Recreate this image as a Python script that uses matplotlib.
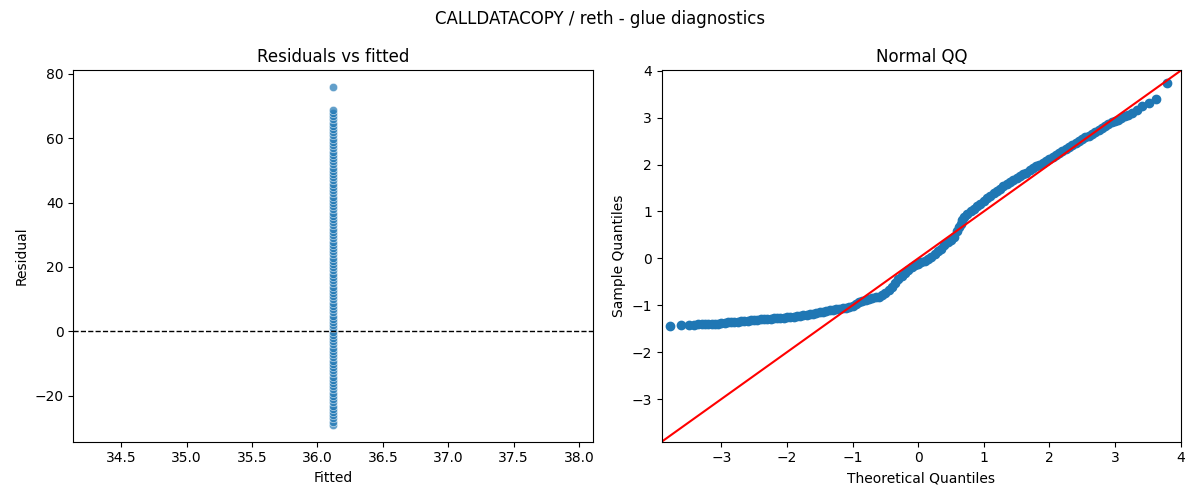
import numpy as np
import matplotlib
matplotlib.use("Agg")
import matplotlib.pyplot as plt
import seaborn as sns

# observed gas values (all at one fitted value)
fitted_value = 36.12
observed = [7, 8, 9, 10, 11, 12, 13, 14, 15, 16, 17, 18, 19, 20,
            21, 22, 23, 24, 25, 26, 27, 28, 29, 30, 31, 32, 33, 34,
            35, 36, 37, 38, 39, 40, 41, 42, 43, 44, 45, 46, 47, 48,
            49, 50, 51, 52, 53, 54, 55, 56, 57, 58, 59, 60, 61, 62,
            63, 64, 65, 66, 67, 68, 69, 70, 71, 72, 73, 74, 75, 76,
            77, 78, 79, 80, 81, 82, 83, 84, 85, 86, 87, 88, 89, 90,
            91, 92, 93, 94, 95, 96, 97, 98, 99, 100, 101, 102, 103, 104,
            105, 112]

# normal QQ
theo_q = [-3.78, -3.62, -3.50, -3.42, -3.36, -3.30, -3.25, -3.20, -3.15, -3.10,
          -3.05, -3.00, -2.95, -2.90, -2.85, -2.80, -2.75, -2.70, -2.65, -2.60,
          -2.55, -2.50, -2.45, -2.40, -2.35, -2.30, -2.25, -2.20, -2.15, -2.10,
          -2.05, -2.00, -1.95, -1.90, -1.85, -1.80, -1.75, -1.70, -1.65, -1.60,
          -1.55, -1.50, -1.45, -1.40, -1.35, -1.30, -1.25, -1.20, -1.15, -1.10,
          -1.05, -1.00, -0.95, -0.90, -0.85, -0.80, -0.75, -0.70, -0.65, -0.60,
          -0.55, -0.50, -0.45, -0.40, -0.35, -0.30, -0.25, -0.20, -0.15, -0.10,
          -0.05, 0.00, 0.05, 0.10, 0.15, 0.20, 0.25, 0.30, 0.35, 0.40,
          0.45, 0.50, 0.55, 0.60, 0.625, 0.65, 0.675, 0.70, 0.75, 0.80,
          0.85, 0.90, 0.95, 1.00, 1.05, 1.10, 1.15, 1.20, 1.25, 1.30,
          1.35, 1.40, 1.45, 1.50, 1.55, 1.60, 1.65, 1.70, 1.75, 1.80,
          1.85, 1.90, 1.95, 2.00, 2.05, 2.10, 2.15, 2.20, 2.25, 2.30,
          2.35, 2.40, 2.45, 2.50, 2.55, 2.60, 2.65, 2.70, 2.75, 2.80,
          2.85, 2.90, 2.95, 3.00, 3.05, 3.10, 3.15, 3.20, 3.26, 3.34,
          3.42, 3.52, 3.625, 3.79]
sample_q = [-1.44, -1.43, -1.42, -1.42, -1.41, -1.41, -1.40, -1.40, -1.40, -1.39,
            -1.39, -1.38, -1.37, -1.36, -1.36, -1.35, -1.35, -1.34, -1.34, -1.33,
            -1.32, -1.31, -1.31, -1.30, -1.30, -1.29, -1.29, -1.28, -1.28, -1.27,
            -1.27, -1.26, -1.25, -1.24, -1.23, -1.22, -1.21, -1.20, -1.19, -1.18,
            -1.16, -1.15, -1.14, -1.13, -1.11, -1.10, -1.09, -1.08, -1.06, -1.05,
            -1.03, -1.01, -0.98, -0.94, -0.91, -0.88, -0.86, -0.84, -0.83, -0.82,
            -0.79, -0.74, -0.67, -0.60, -0.52, -0.45, -0.38, -0.31, -0.24, -0.19,
            -0.15, -0.11, -0.08, -0.05, -0.02, 0.03, 0.09, 0.15, 0.21, 0.28,
            0.34, 0.40, 0.46, 0.58, 0.66, 0.74, 0.82, 0.88, 0.95, 1.01,
            1.06, 1.11, 1.16, 1.22, 1.28, 1.34, 1.39, 1.44, 1.48, 1.55,
            1.59, 1.63, 1.67, 1.71, 1.75, 1.79, 1.83, 1.88, 1.92, 1.96,
            2.00, 2.04, 2.08, 2.12, 2.16, 2.20, 2.24, 2.29, 2.33, 2.37,
            2.41, 2.46, 2.50, 2.54, 2.58, 2.61, 2.65, 2.69, 2.74, 2.78,
            2.82, 2.86, 2.90, 2.93, 2.96, 2.99, 3.03, 3.06, 3.11, 3.17,
            3.24, 3.32, 3.39, 3.75]
qq_lims = (-3.91, 4.01)

resid = np.array(observed) - fitted_value
fitted = np.full(len(resid), fitted_value)

fig, axs = plt.subplots(1, 2, figsize=(12, 5), dpi=100)

ax = axs[0]
sns.scatterplot(x=fitted, y=resid, alpha=0.7, ax=ax)
ax.axhline(0, color="k", linestyle="--", linewidth=1)
ax.set_title("Residuals vs fitted")
ax.set_xlabel("Fitted")
ax.set_ylabel("Residual")

ax = axs[1]
ax.plot(theo_q, sample_q, "o", color="#1f77b4", markersize=6)
ax.plot(qq_lims, qq_lims, "r-")
ax.set_xlim(qq_lims)
ax.set_ylim(qq_lims)
ax.set_title("Normal QQ")
ax.set_xlabel("Theoretical Quantiles")
ax.set_ylabel("Sample Quantiles")

fig.suptitle("CALLDATACOPY / reth - glue diagnostics")
fig.tight_layout()
fig.savefig("out.png")
